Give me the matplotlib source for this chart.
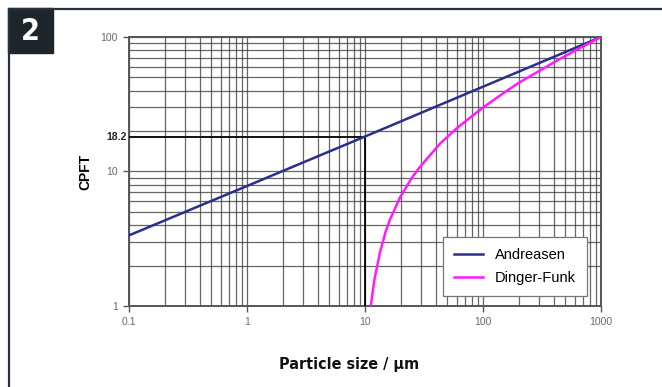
import matplotlib.pyplot as plt
from matplotlib.ticker import FixedLocator, NullFormatter, LogLocator
from matplotlib.patches import Rectangle
from matplotlib.lines import Line2D

# values
andreasen_size = [0.1, 1, 10, 100, 1000]
andreasen_cpft = [3.35, 7.8, 18.2, 42.7, 100]

dinger_size = [11.2, 12, 13.4, 15, 16.3, 19.8, 25, 29.2, 35, 43.2, 60, 77.6,
               100, 150, 200, 300, 450, 600, 800, 1000]
dinger_cpft = [1.0, 1.56, 2.5, 3.6, 4.4, 6.4, 9.0, 10.8, 13.0, 16.1, 21.0,
               25.1, 29.9, 38.4, 45.5, 56.0, 68.8, 78.9, 90.2, 100]

x_ticks = [0.1, 1, 10, 100, 1000]
x_labels = ['0.1', '1', '10', '100', '1000']
y_ticks = [1, 10, 100]
y_labels = ['1', '10', '100']
marker_size = 10
marker_cpft = 18.2

plt.rcParams['font.family'] = ['Liberation Sans', 'DejaVu Sans']

W, H = 662, 387
fig = plt.figure(figsize=(W / 100, H / 100), dpi=100)

# frame and number badge
frame = '#27313c'
fig.add_artist(Line2D([8.5 / W, 8.5 / W], [0, 1 - 8.5 / H], color=frame, lw=1.6,
                      transform=fig.transFigure))
fig.add_artist(Line2D([8.5 / W, 1], [1 - 8.5 / H, 1 - 8.5 / H], color=frame, lw=1.6,
                      transform=fig.transFigure))
fig.add_artist(Rectangle((8 / W, 1 - 53 / H), 45 / W, 45 / H, color='#1e252d',
                         transform=fig.transFigure))
fig.text(30.5 / W, 1 - 31 / H, '2', color='white', fontsize=22, fontweight='bold',
         ha='center', va='center', family='DejaVu Sans', fontstretch='condensed')

ax = fig.add_axes([129 / W, 1 - 306 / H, 472 / W, 269 / H])
ax.set_xscale('log')
ax.set_yscale('log')
ax.set_xlim(0.1, 1000)
ax.set_ylim(1, 100)

ax.xaxis.set_major_locator(FixedLocator(x_ticks))
ax.set_xticklabels(x_labels)
ax.yaxis.set_major_locator(FixedLocator(y_ticks))
ax.set_yticklabels(y_labels)
ax.xaxis.set_minor_locator(LogLocator(base=10, subs=range(2, 10)))
ax.yaxis.set_minor_locator(LogLocator(base=10, subs=range(2, 10)))
ax.xaxis.set_minor_formatter(NullFormatter())
ax.yaxis.set_minor_formatter(NullFormatter())
ax.tick_params(which='major', length=4, width=1, color='#555555',
               labelsize=7.5, labelcolor='#6a6a6a', pad=4)
ax.tick_params(which='minor', length=0)

ax.grid(True, which='both', color='#404040', lw=0.9, alpha=0.8)
for s in ax.spines.values():
    s.set_color('#555555')
    s.set_linewidth(1.4)

# 18.2 guide lines
ax.plot([0.1, marker_size], [marker_cpft, marker_cpft], color='black', lw=1.3, zorder=3)
ax.plot([marker_size, marker_size], [1, marker_cpft], color='black', lw=1.3, zorder=3)
ax.text(-0.005, marker_cpft, '18.2', transform=ax.get_yaxis_transform(),
        ha='right', va='center', fontsize=7.5, fontweight='bold', color='#222222')

ax.plot(andreasen_size, andreasen_cpft, color='#2a2f8c', lw=1.8, label='Andreasen', zorder=4)
ax.plot(dinger_size, dinger_cpft, color='#ff1aff', lw=1.8, label='Dinger-Funk', zorder=4)

leg = ax.legend(loc='lower right', bbox_to_anchor=(0.97, 0.037), borderaxespad=0,
                fontsize=10.5, fancybox=False, framealpha=1, edgecolor='#777777',
                handlelength=2.0, borderpad=0.75, labelspacing=0.65)
leg.get_frame().set_linewidth(0.9)

ax.set_ylabel('CPFT', fontsize=10, fontweight='bold')
ax.yaxis.set_label_coords(-0.078, 0.5)
fig.text(349 / W, 1 - 365 / H, 'Particle size / \u00b5m', ha='center', va='center',
         fontsize=11.5, fontweight='bold', family='DejaVu Sans', fontstretch='condensed',
         color='#111111')

fig.savefig('out.png', dpi=100)
